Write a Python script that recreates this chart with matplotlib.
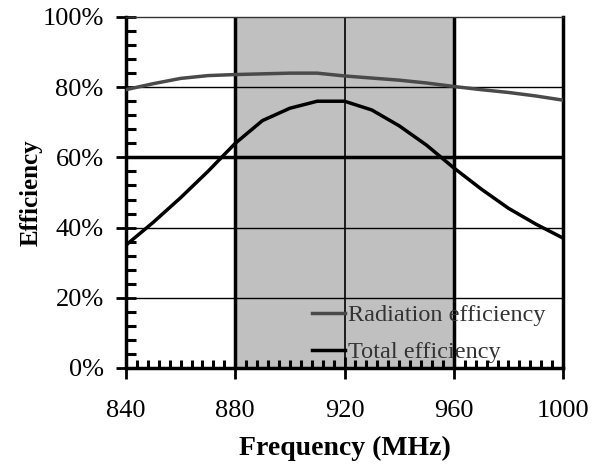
import matplotlib
matplotlib.use("Agg")
import matplotlib.pyplot as plt
from matplotlib.ticker import MultipleLocator, PercentFormatter

plt.rcParams['font.family'] = ['Liberation Serif', 'DejaVu Serif']

freq = [840, 850, 860, 870, 880, 890, 900, 910, 920, 930, 940, 950, 960, 970, 980, 990, 1000]
radiation_eff = [79.3, 81.0, 82.5, 83.3, 83.6, 83.8, 84.0, 84.0, 83.2, 82.6, 82.0, 81.2, 80.2, 79.3, 78.5, 77.5, 76.3]
total_eff = [35.0, 41.5, 48.5, 56.0, 64.0, 70.5, 74.0, 76.0, 76.0, 73.5, 69.0, 63.5, 57.0, 51.0, 45.5, 41.0, 37.0]
band = (880, 960)

fig = plt.figure(figsize=(5.94, 4.68), dpi=100)
ax = fig.add_axes([0.212, 0.2137, 0.736, 0.75])

ax.axvspan(band[0], band[1], color='#c0c0c0', lw=0, zorder=0)

# grid lines, heavier at the band edges and 60 %
for y, lw in [(20, 1.0), (40, 1.0), (60, 2.5), (80, 1.0)]:
    ax.axhline(y, color='black', lw=lw, zorder=1)
for x, lw in [(880, 2.5), (920, 1.2), (960, 2.5)]:
    ax.axvline(x, color='black', lw=lw, zorder=1)

ax.plot(freq, radiation_eff, color='#4a4a4a', lw=2.5, label='Radiation efficiency', zorder=3)
ax.plot(freq, total_eff, color='black', lw=2.5, label='Total efficiency', zorder=3)

ax.set_xlim(840, 1000)
ax.set_ylim(0, 100)
ax.xaxis.set_major_locator(MultipleLocator(40))
ax.xaxis.set_minor_locator(MultipleLocator(4))
ax.yaxis.set_major_locator(MultipleLocator(20))
ax.yaxis.set_minor_locator(MultipleLocator(4))
ax.yaxis.set_major_formatter(PercentFormatter(decimals=0))

ax.tick_params(which='major', direction='inout', width=2, labelsize=19)
ax.tick_params(which='minor', direction='in', width=2.2)
ax.tick_params(axis='y', which='major', length=14, pad=9)
ax.tick_params(axis='y', which='minor', length=7)
ax.tick_params(axis='x', which='major', length=16, pad=15)
ax.tick_params(axis='x', which='minor', length=6)

for side in ['left', 'bottom', 'right']:
    ax.spines[side].set_linewidth(2.5)
ax.spines['top'].set_linewidth(1.0)
ax.spines['top'].set_color('#333333')

ax.set_xlabel('Frequency (MHz)', fontsize=20, fontweight='bold', labelpad=10)
ax.set_ylabel('Efficiency', fontsize=18, fontweight='bold', labelpad=0)

leg = ax.legend(loc='upper left', bbox_to_anchor=(0.525, 0.35), bbox_transform=fig.transFigure,
                frameon=False, fontsize=17.5, handlelength=1.35, handletextpad=0.15,
                labelspacing=0.62, borderpad=0, borderaxespad=0)
for t in leg.get_texts():
    t.set_color('#333333')

fig.savefig('out.png', dpi=100)
